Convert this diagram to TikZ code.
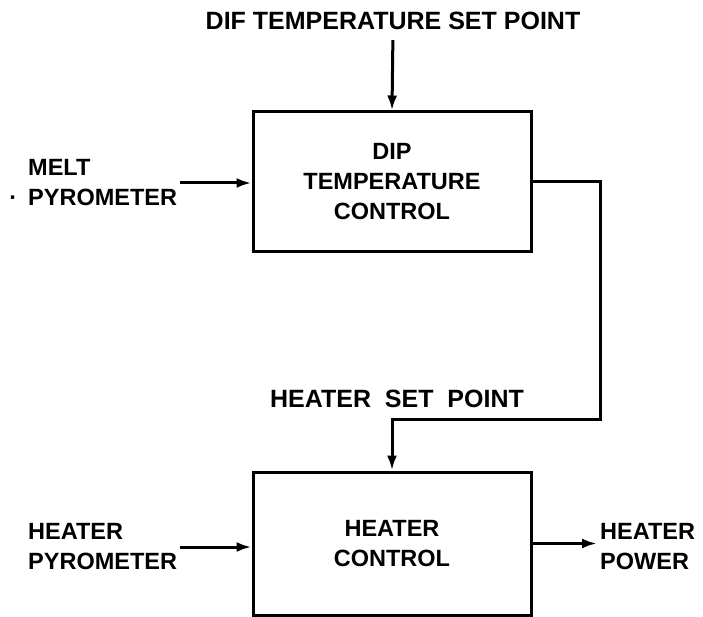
\documentclass[tikz,border=0pt]{standalone}
\usepackage{fontspec}
\setmainfont{Liberation Sans}
\usetikzlibrary{arrows.meta, positioning}

\begin{document}
\begin{tikzpicture}[x=1pt, y=-1pt, font=\bfseries\fontsize{23.5}{30}\selectfont,
		block/.style={draw, line width=3pt, minimum width=278pt, align=center},
		tag/.style={align=left, inner sep=3pt},
		heading/.style={font=\bfseries\fontsize{25}{30}\selectfont, inner sep=0pt},
		flow/.style={line width=3pt, -{Latex[length=15pt, width=10pt]}}]
			\useasboundingbox (0,0) rectangle (703,617);
			\node[block, minimum height=140pt] (dipctl) at (392,182) {DIP\\TEMPERATURE\\CONTROL};
			\node[block, minimum height=143pt] (heatctl) at (392,543.5) {HEATER\\CONTROL};
			\node[heading] (dipset) at (393,21) {DIF TEMPERATURE SET POINT};
			\node[heading] (heatset) at (397,399) {HEATER\ \ SET\ \ POINT};
			\node[tag, anchor=west] (melt) at (25,183) {MELT\\\llap{·\hspace{11pt}}PYROMETER};
			\node[tag, anchor=west] (heatpyro) at (25,547) {HEATER\\PYROMETER};
			\node[tag, anchor=west] (power) at (597,547) {HEATER\\POWER};
			\coordinate (turn) at (600,419);
			\draw[flow, shorten <=10pt] (dipset.south) -- (dipctl.north);
			\draw[flow] (melt.east) -- (melt.east -| dipctl.west);
			\draw[flow] (dipctl.east) -| (turn) -| (heatctl.north);
			\draw[flow] (heatpyro.east) -- (heatpyro.east -| heatctl.west);
			\draw[flow] (heatctl.east) -- (heatctl.east -| power.west);
		\end{tikzpicture}
\end{document}
